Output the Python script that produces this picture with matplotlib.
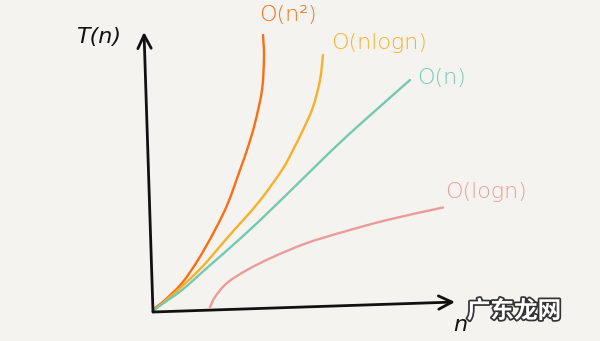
import matplotlib
matplotlib.use("Agg")
import matplotlib.pyplot as plt
import matplotlib.patheffects as pe
from matplotlib.path import Path
from matplotlib.patches import PathPatch

# ---- data (arbitrary units) ----
n_sq = [0, 0.08, 0.48, 1.16, 1.8, 2.48, 3.0, 3.48, 3.8, 4.08, 4.36, 4.44, 4.4]
t_sq = [0, 0.12, 0.44, 1.12, 2.04, 3.24, 4.32, 5.64, 6.56, 7.52, 8.84, 10.16, 11.04]

n_nlog = [0, 0.2, 1.0, 1.96, 3.0, 4.2, 5.16, 5.6, 6.0, 6.4, 6.68, 6.8]
t_nlog = [0, 0.16, 0.84, 1.76, 2.96, 4.32, 5.64, 6.44, 7.24, 8.16, 9.24, 10.24]

n_lin = [0, 0.2, 1.16, 2.2, 3.56, 5.0, 6.96, 8.16, 10.28]
t_lin = [0, 0.16, 0.84, 1.76, 2.96, 4.32, 6.24, 7.36, 9.24]

n_log = [2.28, 2.48, 2.96, 3.76, 4.8, 6.16, 7.6, 9.36, 11.6]
t_log = [0.16, 0.56, 1.12, 1.64, 2.16, 2.72, 3.16, 3.64, 4.14]

labels = ["O(n²)", "O(nlogn)", "O(n)", "O(logn)"]
colors = ["#fa6e14", "#f7b02a", "#74c9af", "#eb9c9a"]

bg = "#f4f3ef"
fig = plt.figure(figsize=(6.0, 3.41), dpi=100, facecolor=bg)
ax = fig.add_axes([0, 0, 1, 1])
ax.set_facecolor(bg)
ax.set_xlim(-6.12, 17.88)
ax.set_ylim(-1.2, 12.44)
ax.axis("off")


def smooth_path(xs, ys):
    """Catmull-Rom curve through the read points, drawn as cubic Bezier segments."""
    pts = list(zip(xs, ys))
    verts = [pts[0]]
    codes = [Path.MOVETO]
    for i in range(len(pts) - 1):
        p0 = pts[i - 1] if i > 0 else pts[i]
        p1 = pts[i]
        p2 = pts[i + 1]
        p3 = pts[i + 2] if i + 2 < len(pts) else pts[i + 1]
        c1 = (p1[0] + (p2[0] - p0[0]) / 6.0, p1[1] + (p2[1] - p0[1]) / 6.0)
        c2 = (p2[0] - (p3[0] - p1[0]) / 6.0, p2[1] - (p3[1] - p1[1]) / 6.0)
        verts += [c1, c2, p2]
        codes += [Path.CURVE4] * 3
    return Path(verts, codes)


series = [(n_sq, t_sq), (n_nlog, t_nlog), (n_lin, t_lin), (n_log, t_log)]
for (xs, ys), c in zip(series, colors):
    ax.add_patch(PathPatch(smooth_path(xs, ys), facecolor="none", edgecolor=c,
                           lw=1.7, capstyle="round", joinstyle="round"))

# axes drawn as hand-style arrows
arrow = dict(arrowstyle="->", lw=2.0, color="#111111", mutation_scale=24,
             shrinkA=0, shrinkB=0)
ax.annotate("", xy=(-0.36, 11.16), xytext=(0, -0.04), arrowprops=arrow)
ax.annotate("", xy=(12.08, 0.36), xytext=(0, -0.04), arrowprops=arrow)

fnt = "DejaVu Sans"
fs = 16
ax.text(4.24, 11.84, labels[0], color=colors[0], fontsize=fs, family=fnt,
        fontweight="light", ha="left", va="center")
ax.text(7.12, 10.72, labels[1], color=colors[1], fontsize=fs, family=fnt,
        fontweight="light", ha="left", va="center")
ax.text(10.56, 9.32, labels[2], color=colors[2], fontsize=fs, family=fnt,
        fontweight="light", ha="left", va="center")
ax.text(11.68, 4.76, labels[3], color=colors[3], fontsize=fs, family=fnt,
        fontweight="light", ha="left", va="center")

ax.text(-3.08, 10.96, "T(n)", color="#111111", fontsize=fs, family=fnt,
        ha="left", va="center", style="italic")
ax.text(12.3, -0.55, "n", color="#111111", fontsize=fs, family=fnt,
        ha="center", va="center", style="italic")

# watermark
wm = ax.text(14.44, 0.0, "广东龙网", fontsize=17, family=["Noto Sans CJK SC", "DejaVu Sans"],
             fontweight="bold", color="white", ha="center", va="center")
wm.set_path_effects([pe.withStroke(linewidth=2.5, foreground="#333333")])

fig.savefig("out.png", dpi=100, facecolor=bg)
